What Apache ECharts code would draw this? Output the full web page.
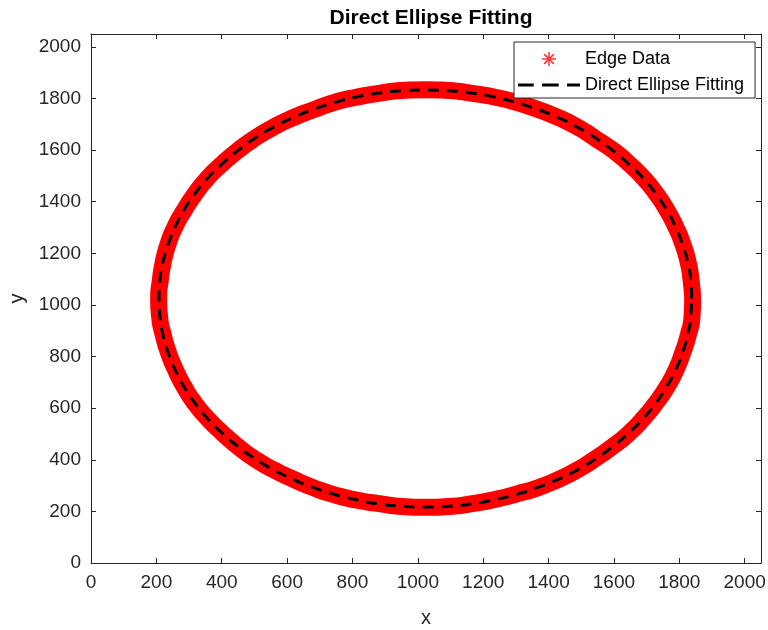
<!DOCTYPE html>
<html>
<head>
<meta charset="utf-8">
<script src="https://cdn.jsdelivr.net/npm/echarts@6/dist/echarts.min.js"></script>
<style>
html,body{margin:0;padding:0;background:#fff;}
#chart{width:768px;height:630px;}
</style>
</head>
<body>
<div id="chart"></div>
<script>
// ---- data ----
const titleText = 'Direct Ellipse Fitting';
const xName = 'x';
const yName = 'y';
const seriesNames = ['Edge Data', 'Direct Ellipse Fitting'];
const axisMin = 0;
const axisMax = 2050;
const tickStep = 200;

// Edge data (points read along the red band)
const edgeX = [1841, 1836, 1827, 1811, 1790, 1763, 1730, 1692, 1648, 1600, 1546, 1490, 1430, 1366, 1301, 1233, 1166, 1095, 1024, 951, 880, 811, 745, 680, 615, 557, 500, 446, 398, 354, 318, 285, 256, 235, 221, 212, 207, 210, 221, 237, 258, 285, 317, 356, 400, 448, 499, 557, 617, 680, 743, 811, 882, 953, 1022, 1093, 1166, 1235, 1301, 1368, 1432, 1490, 1546, 1600, 1648, 1692, 1729, 1763, 1790, 1811, 1828, 1839, 1841];
const edgeY = [1025, 1097, 1166, 1235, 1300, 1366, 1430, 1490, 1545, 1597, 1643, 1688, 1726, 1758, 1785, 1806, 1820, 1831, 1834, 1831, 1820, 1805, 1785, 1756, 1724, 1688, 1645, 1595, 1543, 1488, 1430, 1366, 1300, 1233, 1166, 1095, 1025, 954, 884, 815, 750, 683, 620, 561, 506, 453, 405, 362, 326, 292, 265, 244, 230, 219, 216, 219, 230, 246, 267, 292, 325, 362, 407, 455, 505, 563, 621, 684, 749, 817, 886, 955, 1025];

// Fitted ellipse
const fitX = [1838, 1835, 1826, 1810, 1789, 1762, 1729, 1691, 1647, 1599, 1547, 1491, 1431, 1367, 1302, 1234, 1165, 1094, 1023, 952, 881, 812, 744, 679, 616, 556, 499, 447, 399, 355, 317, 284, 257, 236, 220, 211, 208, 211, 220, 236, 257, 284, 317, 355, 399, 447, 499, 556, 616, 679, 744, 812, 881, 952, 1023, 1094, 1165, 1234, 1302, 1367, 1431, 1491, 1547, 1599, 1647, 1691, 1729, 1762, 1789, 1810, 1826, 1835, 1838];
const fitY = [1025, 1096, 1165, 1234, 1301, 1367, 1429, 1489, 1544, 1596, 1644, 1687, 1725, 1757, 1784, 1806, 1821, 1830, 1833, 1830, 1821, 1806, 1784, 1757, 1725, 1687, 1644, 1596, 1544, 1489, 1429, 1367, 1301, 1234, 1165, 1096, 1025, 955, 885, 816, 749, 684, 621, 562, 506, 454, 406, 363, 325, 293, 266, 245, 229, 220, 217, 220, 229, 245, 266, 293, 325, 363, 406, 454, 506, 562, 621, 684, 749, 816, 885, 955, 1025];

// ---- build ----
const edgeData = edgeX.map((x, i) => [x, edgeY[i]]);
const fitData = fitX.map((x, i) => [x, fitY[i]]);

const AX = '#262626';
const FONT = 'Liberation Sans, Arial, Helvetica, sans-serif';
const asterisk = 'path://M10,0L10,20M0,10L20,10M3,3L17,17M3,17L17,3';
const dashIcon = 'path://M0,0H17V3H0Z M26,0H44V3H26Z M53,0H67V3H53Z';

function mkX(pos, showLabels) {
  return {
    type: 'value', position: pos, min: axisMin, max: axisMax, interval: tickStep,
    name: showLabels ? xName : '', nameLocation: 'middle', nameGap: 45,
    nameTextStyle: {color: AX, fontSize: 20, fontFamily: FONT},
    axisLine: {show: true, onZero: false, lineStyle: {color: AX, width: 1}},
    axisTick: {show: true, inside: true, length: 5, lineStyle: {color: AX}},
    axisLabel: {show: showLabels, color: AX, fontSize: 19, fontFamily: FONT, margin: 10, showMaxLabel: false,
      formatter: v => (v % tickStep === 0 ? String(v) : '')},
    splitLine: {show: false}
  };
}
function mkY(pos, showLabels) {
  return {
    type: 'value', position: pos, min: axisMin, max: axisMax, interval: tickStep,
    name: showLabels ? yName : '', nameLocation: 'middle', nameGap: 64, nameRotate: 90,
    nameTextStyle: {color: AX, fontSize: 20, fontFamily: FONT},
    axisLine: {show: true, onZero: false, lineStyle: {color: AX, width: 1}},
    axisTick: {show: true, inside: true, length: 5, lineStyle: {color: AX}},
    axisLabel: {show: showLabels, color: AX, fontSize: 19, fontFamily: FONT, margin: 10, showMaxLabel: false,
      formatter: v => (v % tickStep === 0 ? String(v) : '')},
    splitLine: {show: false}
  };
}

const chart = echarts.init(document.getElementById('chart'), null, {renderer: 'canvas'});
chart.setOption({
  backgroundColor: '#ffffff',
  animation: false,
  title: {
    text: titleText, left: 426, top: 3, textAlign: 'center',
    textStyle: {color: '#000', fontSize: 21, fontWeight: 'bold', fontFamily: FONT}
  },
  grid: {left: 91, right: 7, top: 34, bottom: 67, containLabel: false, outerBoundsMode: 'none'},
  xAxis: [mkX('bottom', true), mkX('top', false)],
  yAxis: [mkY('left', true), mkY('right', false)],
  legend: {
    orient: 'vertical', left: 514, top: 42,
    padding: [8, 11, 4, 4],
    itemWidth: 62, itemHeight: 14, itemGap: 8,
    backgroundColor: '#fff', borderColor: '#262626', borderWidth: 1, borderRadius: 0,
    textStyle: {color: '#000', fontSize: 18, fontFamily: FONT},
    data: [
      {name: seriesNames[0], icon: asterisk, itemStyle: {color: '#ff0000', borderColor: '#ff0000', borderWidth: 1.5}},
      {name: seriesNames[1], icon: dashIcon, itemStyle: {color: '#000', borderWidth: 0}}
    ]
  },
  series: [
    {
      name: '__band', type: 'line', xAxisIndex: 0, yAxisIndex: 0,
      data: edgeData, smooth: 0.6, showSymbol: false, symbol: 'none',
      lineStyle: {color: '#ff0000', width: 17}, silent: true, z: 1
    },
    {
      name: seriesNames[0], type: 'scatter', xAxisIndex: 0, yAxisIndex: 0,
      data: edgeData, symbol: asterisk, symbolSize: 14,
      itemStyle: {color: '#ff0000', borderColor: '#ff0000', borderWidth: 1.5}, z: 2
    },
    {
      name: seriesNames[1], type: 'line', xAxisIndex: 0, yAxisIndex: 0,
      data: fitData, smooth: 0.6, showSymbol: false, symbol: 'none',
      itemStyle: {color: '#000'},
      lineStyle: {color: '#000', width: 3, type: [11, 8]}, z: 3
    }
  ]
});
</script>
</body>
</html>
